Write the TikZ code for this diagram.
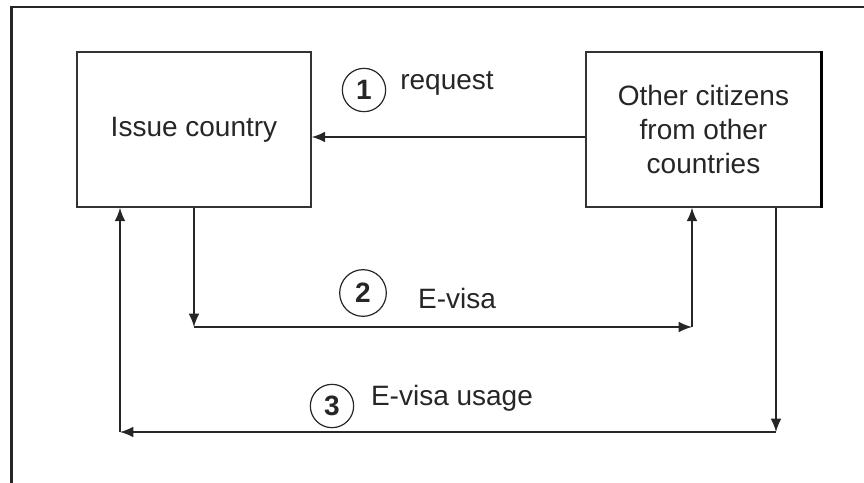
\documentclass[tikz,border=0pt]{standalone}
\usepackage{fontspec}
\setmainfont{Liberation Sans}
\usetikzlibrary{arrows.meta}
\begin{document}
\begin{tikzpicture}[x=0.75pt,y=-0.75pt,>={Latex[length=10pt,width=8pt]},line join=miter,
	font=\fontsize{21}{25.5}\selectfont,text=black!85,
	party/.style={draw=black!80,line width=1.1pt,fill=white,inner sep=0pt,align=center,minimum height=116.25pt},
	flow/.style={->,draw=black!85,line width=1.1pt},
	stepno/.style={circle,draw=black!85,line width=0.9pt,inner sep=0pt,minimum size=32.5pt,font=\fontsize{21}{25.5}\selectfont\bfseries}]
	\useasboundingbox (0,0) rectangle (864,482);
	\draw [line width=1.6pt,black!85] (11.5,490)--(11.5,7)--(870,7);
	% the two parties
	\node [party,minimum width=175.5pt] (iss) at (194,129.5) {Issue country};
	\node [party,minimum width=176.25pt] (cit) at (703.5,129.5) {Other citizens\\from other\\countries};
	\draw [line width=2.2pt] ([xshift=-0.5pt]cit.north east)--([xshift=-0.5pt]cit.south east);
	% corners of the connectors
	\coordinate (rq) at (0,137);
	\coordinate (ev1) at (194,327); \coordinate (ev2) at (692,327);
	\coordinate (us1) at (776,432); \coordinate (us2) at (120,432);
	% 1 request
	\draw [flow] (cit.west |- rq)--(iss.east |- rq);
	% 2 e-visa
	\draw [flow] (iss.south -| ev1)--(ev1);
	\draw [flow] (ev1)--(ev2);
	\draw [flow] (ev2)--(cit.south -| ev2);
	% 3 usage
	\draw [flow] (cit.south -| us1)--(us1);
	\draw [flow] (us1)--(us2);
	\draw [flow] (us2)--(iss.south -| us2);
	% step labels
	\node [stepno] (n1) at (364,90) {1};
	\node (l1) at (447,83) {request};
	\node [stepno,minimum size=35pt] (n2) at (363,293) {2};
	\node (l2) at (457,298) {E-visa};
	\node [stepno] (n3) at (332,406) {3};
	\node (l3) at (452,398) {E-visa usage};
\end{tikzpicture}
\end{document}
